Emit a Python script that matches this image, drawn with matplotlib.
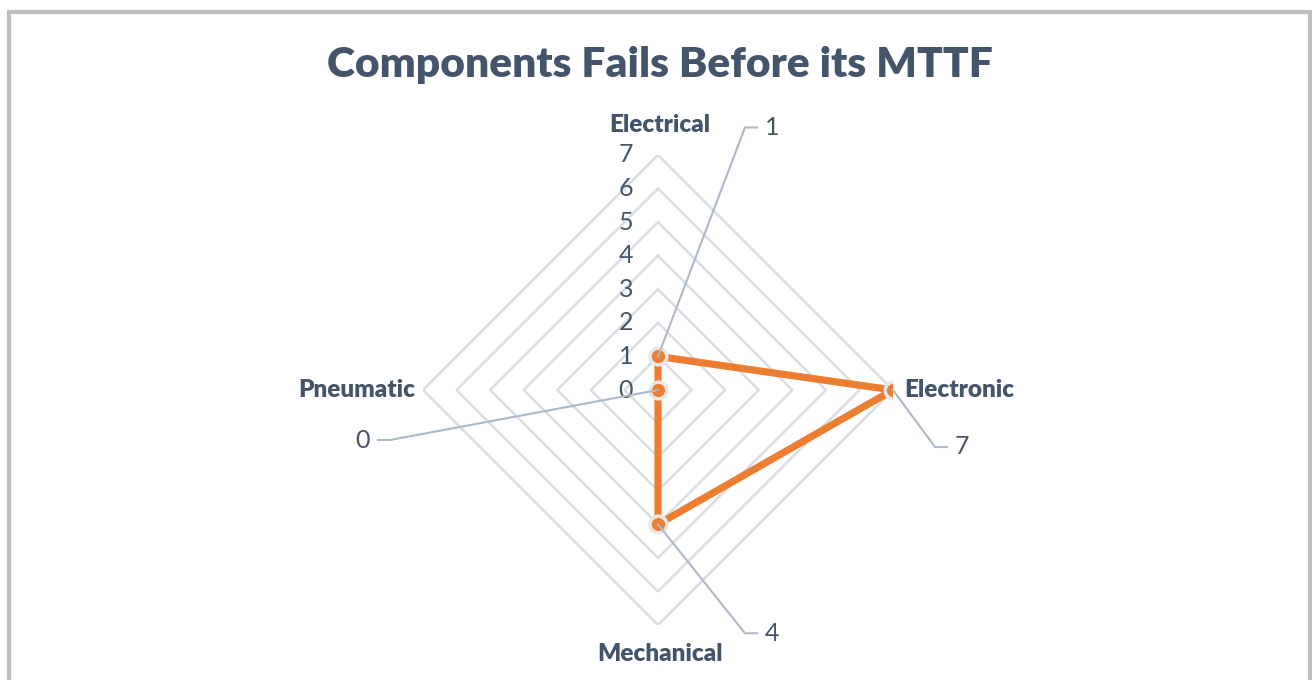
import numpy as np
import matplotlib
matplotlib.use("Agg")
import matplotlib.pyplot as plt
from matplotlib.lines import Line2D
from matplotlib.transforms import IdentityTransform

categories = ["Electrical", "Electronic", "Mechanical", "Pneumatic"]
values = [1, 7, 4, 0]
ring_ticks = [0, 1, 2, 3, 4, 5, 6, 7]
title = "Components Fails Before its MTTF"

W, H = 1312, 680
fig = plt.figure(figsize=(W / 100, H / 100), dpi=100)
plt.rcParams['font.family'] = ['Lato', 'DejaVu Sans']

TXT = '#44546A'
cx, cy, R = 658, 390, 235  # pixel center (from top) and radius
ax = fig.add_axes([(cx - R) / W, (H - cy - R) / H, 2 * R / W, 2 * R / H], projection='polar')
ax.set_theta_zero_location('N')
ax.set_theta_direction(-1)
ax.set_ylim(0, max(ring_ticks))
ax.axis('off')

n = len(categories)
theta = np.arange(n) * 2 * np.pi / n
theta_c = np.append(theta, theta[0])

# diamond grid
for r in ring_ticks[1:]:
    ax.plot(theta_c, [r] * (n + 1), color='#DADDE2', lw=1.8, zorder=1)

# data
vals_c = values + values[:1]
ax.plot(theta_c, vals_c, color='#ED7D31', lw=5.2, zorder=3, solid_joinstyle='round')
ax.plot(theta, values, 'o', color='#ED7D31', ms=12, mec='#E7E6E6', mew=2.5, zorder=4)

# ring tick labels
for r in ring_ticks:
    ax.annotate(str(r), xy=(0, r), xytext=(-25, 0), textcoords='offset pixels',
                ha='right', va='center', fontsize=18, color=TXT)

# category labels
cat_fmt = [('center', 'bottom', (2, 254)),
           ('left', 'center', (11, 0)),
           ('center', 'top', (2, -253)),
           ('right', 'center', (-8, 0))]
for i, lab in enumerate(categories):
    ha, va, off = cat_fmt[i]
    if i in (0, 2):
        ax.annotate(lab, xy=(0, 0), xytext=off, textcoords='offset pixels',
                    ha=ha, va=va, fontsize=17.5, fontweight='heavy', color=TXT)
    else:
        ax.annotate(lab, xy=(theta[i], max(ring_ticks)), xytext=off, textcoords='offset pixels',
                    ha=ha, va=va, fontsize=17.5, fontweight='heavy', color=TXT)

fig.canvas.draw()

# data labels with leader lines
leader = [(87, 229, 12), (42, -57, 12), (87, -109, 12), (-268, -50, -12)]
for i, v in enumerate(values):
    px, py = ax.transData.transform((theta[i], v))
    dx, dy, hx = leader[i]
    ex, ey = px + dx, py + dy
    fig.add_artist(Line2D([px, ex, ex + hx], [py, ey, ey], transform=IdentityTransform(),
                          color='#ADB9CA', lw=1.5, zorder=2))
    if hx > 0:
        fig.text((ex + hx + 8) / W, ey / H, str(v), ha='left', va='center', fontsize=18, color=TXT)
    else:
        fig.text((ex + hx - 8) / W, ey / H, str(v), ha='right', va='center', fontsize=18, color=TXT)

# title
fig.text(660 / W, 1 - 65 / H, title, ha='center', va='center', fontsize=30.6,
         fontweight='heavy', color=TXT)

# outer frame
fig.add_artist(Line2D([9, 9, 1310, 1310], [0, H - 12, H - 12, 0], transform=IdentityTransform(),
                      color='#BFBFBF', lw=3, solid_joinstyle='miter'))

fig.savefig('out.png', dpi=100)
